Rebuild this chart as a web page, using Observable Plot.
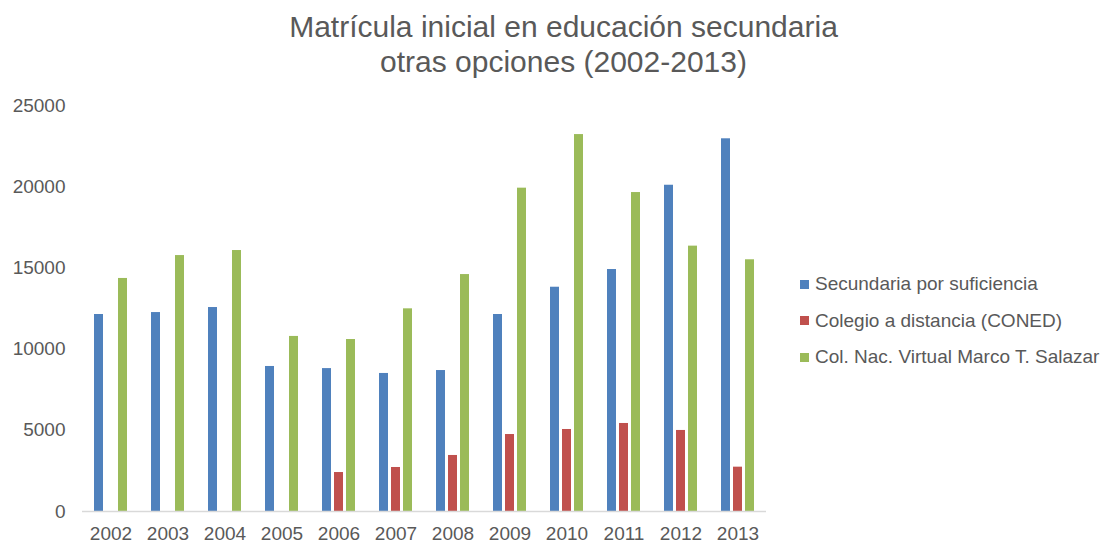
<!DOCTYPE html>
<html>
<head>
<meta charset="utf-8">
<script src="https://cdn.jsdelivr.net/npm/d3@7"></script>
<script src="https://cdn.jsdelivr.net/npm/@observablehq/plot@0.6"></script>
<style>
  html, body { margin: 0; padding: 0; background: #fff; }
  body { width: 1109px; height: 544px; position: relative; overflow: hidden; font-family: "Liberation Sans", Arial, sans-serif; }
  #title { position: absolute; left: 9px; top: 9px; width: 1109px; text-align: center; font-size: 30px; line-height: 35px; color: #595959; }
  #chart { position: absolute; left: 0; top: 90px; }
  #legend { position: absolute; left: 800px; top: 266px; font-size: 19px; color: #595959; }
  .row { height: 36.5px; line-height: 36.5px; white-space: nowrap; display: flex; align-items: center; }
  .sw { width: 9px; height: 9px; margin-right: 6px; flex: none; }
</style>
</head>
<body>
<div id="title">Matrícula inicial en educación secundaria<br>otras opciones (2002-2013)</div>
<div id="chart"></div>
<div id="legend"></div>
<script>
const years = ["2002","2003","2004","2005","2006","2007","2008","2009","2010","2011","2012","2013"];
const seriesNames = ["Secundaria por suficiencia", "Colegio a distancia (CONED)", "Col. Nac. Virtual Marco T. Salazar"];
const seriesColors = ["#4F81BD", "#C0504D", "#9BBB59"];
const suficiencia = [12130, 12250, 12560, 8930, 8800, 8500, 8680, 12130, 13810, 14900, 20090, 22950];
const coned = [0, 0, 0, 0, 2400, 2710, 3450, 4740, 5050, 5420, 4990, 2730];
const virtual = [14350, 15760, 16070, 10780, 10590, 12480, 14590, 19910, 23210, 19640, 16340, 15500];
const yTicks = [0, 5000, 10000, 15000, 20000, 25000];

const valuesBySeries = [suficiencia, coned, virtual];
const data = [];
years.forEach((yr, i) => {
  seriesNames.forEach((s, j) => {
    data.push({year: yr, series: s, value: valuesBySeries[j][i]});
  });
});

const plot = Plot.plot({
  width: 1109,
  height: 454,
  marginLeft: 80,
  marginRight: 342,
  marginTop: 15,
  marginBottom: 33,
  style: {fontFamily: "'Liberation Sans', Arial, sans-serif", fontSize: "19px", color: "#595959", background: "transparent"},
  fx: {domain: years, padding: 0, label: null, axis: "bottom", tickSize: 0, tickPadding: 15},
  x: {domain: seriesNames, paddingInner: 0.23, paddingOuter: 0.82, axis: null},
  y: {domain: [0, 25000], ticks: yTicks, tickFormat: d => String(d), tickSize: 0, tickPadding: 17, label: null},
  color: {domain: seriesNames, range: seriesColors},
  marks: [
    Plot.barY(data.filter(d => d.value > 0), {fx: "year", x: "series", y: "value", fill: "series"}),
    Plot.ruleY([0], {stroke: "#d9d9d9", strokeWidth: 1.5})
  ]
});
document.getElementById("chart").appendChild(plot);

const legend = document.getElementById("legend");
seriesNames.forEach((s, i) => {
  const row = document.createElement("div");
  row.className = "row";
  const sw = document.createElement("span");
  sw.className = "sw";
  sw.style.background = seriesColors[i];
  const t = document.createElement("span");
  t.textContent = s;
  row.appendChild(sw);
  row.appendChild(t);
  legend.appendChild(row);
});
</script>
</body>
</html>
